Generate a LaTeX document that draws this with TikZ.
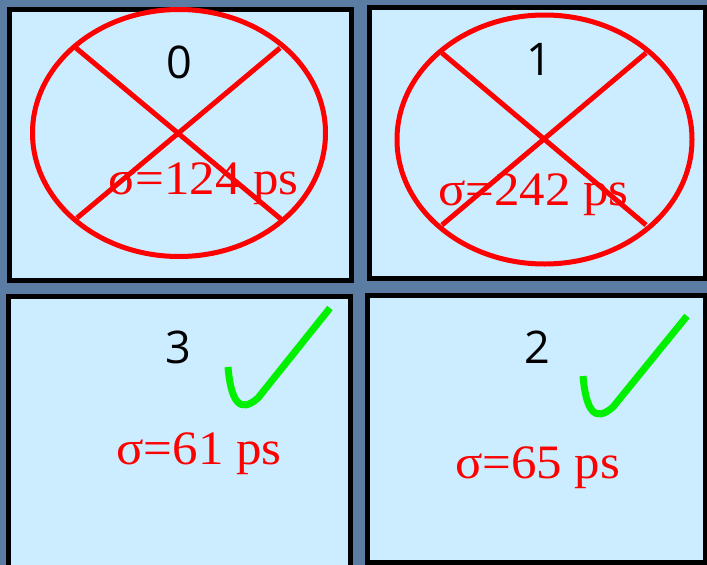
\documentclass[tikz,border=0pt]{standalone}
\usepackage{fontspec}
\setmainfont{Liberation Serif}
\newfontfamily\digitfont{Open Sans}
\newfontfamily\sigmafont[FakeStretch=1.06]{Liberation Serif}
\begin{document}
\begin{tikzpicture}[x=1pt,y=-1pt,
  panel/.style={draw=black,line width=5pt,fill=panelblue,inner sep=0pt},
  numlbl/.style={font=\digitfont\fontsize{45}{50}\selectfont,text=black,anchor=base,inner sep=0pt},
  sigmalbl/.style={font=\sigmafont\fontsize{48}{52}\selectfont,text=red,anchor=base,inner sep=0pt},
  redmark/.style={draw=red,line width=5pt},
  okmark/.style={draw=okgreen,line width=7pt}]
\definecolor{bgblue}{HTML}{5B7DA3}
\definecolor{panelblue}{HTML}{CCECFF}
\definecolor{okgreen}{HTML}{00F000}
\useasboundingbox (0,0) rectangle (707,565);
\clip (0,0) rectangle (707,565);
\fill[bgblue] (0,0) rectangle (707,565);
% panels
\node[panel,minimum width=342pt,minimum height=271pt] (p0) at (180,144.5) {};
\node[panel,minimum width=336pt,minimum height=271pt] (p1) at (537,142.5) {};
\node[panel,minimum width=342pt,minimum height=274pt] (p3) at (179,433) {};
\node[panel,minimum width=338pt,minimum height=267pt] (p2) at (536,428.5) {};
% panel 0
\draw[redmark] (179,133) ellipse [x radius=146.5, y radius=123.5];
\draw[redmark] (76,48) -- (282,220);
\draw[redmark] (280,48) -- (77,218);
\node[numlbl] (n0) at (179,78) {0};
\node[sigmalbl] (s0) at (203.5,194) {σ=124 ps};
% panel 1
\draw[redmark] (544.5,139.5) ellipse [x radius=147.5, y radius=124.5];
\draw[redmark] (442,53) -- (646,225);
\draw[redmark] (646,53) -- (442,225);
\node[numlbl] (n1) at (539,75) {1};
\node[sigmalbl] (s1) at (533.5,205) {σ=242 ps};
% panel 3
\node[numlbl] (n3) at (178,363) {3};
\draw[okmark] (228,367) .. controls (231,402) and (240,414) .. (258,398) -- (330,308);
\node[sigmalbl] (s3) at (199,464) {σ=61 ps};
% panel 2
\node[numlbl] (n2) at (537.5,363) {2};
\draw[okmark] (583,376) .. controls (586,411) and (595,423) .. (613,407) -- (687,316);
\node[sigmalbl] (s2) at (537.5,478) {σ=65 ps};
\end{tikzpicture}
\end{document}
